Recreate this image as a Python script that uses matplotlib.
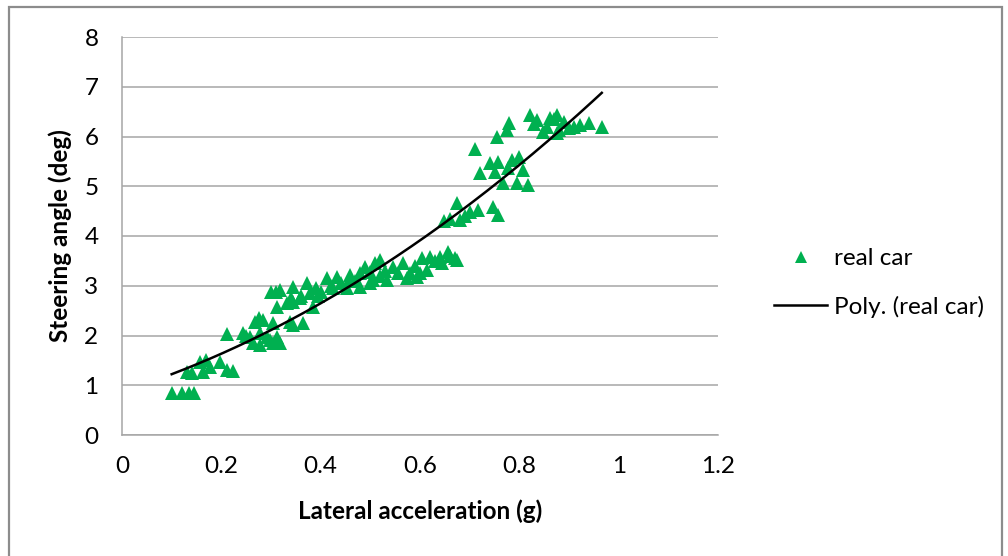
import numpy as np
import matplotlib
matplotlib.use("Agg")
import matplotlib.pyplot as plt
from matplotlib.patches import Rectangle

plt.rcParams['font.family'] = ['Lato', 'DejaVu Sans']

# Measured lateral acceleration (g) and steering angle (deg)
lat_acc = [
    0.100, 0.120, 0.135, 0.145, 0.130, 0.140,
    0.157, 0.163, 0.177, 0.170, 0.197, 0.211, 0.224,
    0.211, 0.244, 0.258, 0.278, 0.298, 0.264, 0.278, 0.250,
    0.268, 0.284, 0.275, 0.304, 0.338, 0.364, 0.345,
    0.292, 0.304, 0.312, 0.318,
    0.300, 0.310, 0.318, 0.345, 0.372, 0.413, 0.433, 0.459, 0.480, 0.500,
    0.312, 0.332, 0.345, 0.358, 0.385, 0.378, 0.400, 0.425, 0.453, 0.480, 0.500,
    0.340, 0.360, 0.390, 0.395,
    0.490, 0.520, 0.546, 0.566, 0.580, 0.604, 0.620, 0.640, 0.656, 0.674,
    0.614, 0.594, 0.574, 0.533, 0.505,
    0.510, 0.530, 0.555, 0.590, 0.630, 0.660, 0.670, 0.645, 0.600, 0.520,
    0.470, 0.440, 0.420, 0.460,
    0.648, 0.660, 0.675, 0.680, 0.690, 0.700, 0.717, 0.747, 0.757,
    0.720, 0.710, 0.740, 0.757, 0.750, 0.785, 0.800, 0.777, 0.807,
    0.767, 0.795, 0.817,
    0.755, 0.775, 0.780, 0.821, 0.835, 0.848, 0.855, 0.862, 0.875, 0.875,
    0.880, 0.900, 0.922, 0.940, 0.966, 0.830, 0.890, 0.910, 0.870,
]
steer_angle = [
    0.85, 0.85, 0.85, 0.85, 1.27, 1.25,
    1.47, 1.27, 1.37, 1.50, 1.47, 1.31, 1.28,
    2.03, 2.05, 1.97, 2.05, 1.91, 1.85, 1.81, 2.00,
    2.28, 2.31, 2.35, 2.25, 2.27, 2.25, 2.22,
    1.97, 1.85, 1.97, 1.85,
    2.87, 2.87, 2.91, 2.97, 3.05, 3.16, 3.18, 3.22, 3.26, 3.28,
    2.57, 2.65, 2.67, 2.75, 2.57, 2.85, 2.87, 2.95, 2.95, 2.97, 3.05,
    2.75, 2.80, 2.95, 2.80,
    3.38, 3.52, 3.38, 3.46, 3.26, 3.56, 3.58, 3.58, 3.68, 3.52,
    3.32, 3.18, 3.16, 3.12, 3.12,
    3.45, 3.30, 3.25, 3.40, 3.50, 3.60, 3.55, 3.45, 3.25, 3.20,
    3.10, 3.05, 3.00, 3.15,
    4.30, 4.35, 4.66, 4.32, 4.40, 4.48, 4.52, 4.58, 4.42,
    5.27, 5.75, 5.47, 5.49, 5.29, 5.53, 5.59, 5.37, 5.33,
    5.06, 5.06, 5.02,
    5.99, 6.13, 6.27, 6.43, 6.33, 6.09, 6.19, 6.37, 6.43, 6.07,
    6.13, 6.17, 6.23, 6.27, 6.19, 6.25, 6.30, 6.20, 6.35,
]

x_ticks = [0, 0.2, 0.4, 0.6, 0.8, 1, 1.2]
x_tick_labels = ['0', '0.2', '0.4', '0.6', '0.8', '1', '1.2']
y_ticks = [0, 1, 2, 3, 4, 5, 6, 7, 8]

W, H = 1008, 556
fig = plt.figure(figsize=(W / 100, H / 100), dpi=100)
fig.patch.set_facecolor('white')

# Chart-area border
fig.add_artist(Rectangle((9 / W, -0.05), (1002 - 9) / W, 1.05 - 7 / H,
                         transform=fig.transFigure, fill=False,
                         edgecolor='#8c8c8c', linewidth=1.6))

ax = fig.add_axes([122 / W, 1 - 435 / H, (718 - 122) / W, (435 - 37) / H])

green = '#00B050'
grid_grey = '#A6A6A6'
fs = 17.5

ax.plot(lat_acc, steer_angle, linestyle='none', marker='^', markersize=10,
        color=green, markeredgewidth=0, label='real car', zorder=3)

# Second-order polynomial trend line through the measurements
coeffs = np.polyfit(lat_acc, steer_angle, 2)
xs = np.linspace(min(lat_acc), max(lat_acc), 200)
ax.plot(xs, np.polyval(coeffs, xs), color='black', linewidth=1.8,
        label='Poly. (real car)', zorder=4)

ax.set_xlim(0, 1.2)
ax.set_ylim(0, 8)
ax.set_xticks(x_ticks)
ax.set_xticklabels(x_tick_labels)
ax.set_yticks(y_ticks)
ax.tick_params(axis='both', length=0, labelsize=fs, colors='black')
ax.tick_params(axis='x', pad=15)
ax.tick_params(axis='y', pad=17)

ax.grid(axis='y', color=grid_grey, linewidth=1.1)
ax.set_axisbelow(True)
for side in ('top', 'right'):
    ax.spines[side].set_visible(False)
for side in ('left', 'bottom'):
    ax.spines[side].set_color(grid_grey)
    ax.spines[side].set_linewidth(1.1)

ax.set_xlabel('Lateral acceleration (g)', fontsize=fs, fontweight='bold',
              labelpad=16)
ax.set_ylabel('Steering angle (deg)', fontsize=fs, fontweight='bold',
              labelpad=9)

leg = fig.legend(loc='center left', bbox_to_anchor=(774 / W, 1 - 283 / H),
                 frameon=False, fontsize=fs, handlelength=2.2,
                 handletextpad=0.25, labelspacing=1.1, borderpad=0,
                 borderaxespad=0, markerscale=0.8)

fig.savefig('out.png', dpi=100, facecolor='white')
